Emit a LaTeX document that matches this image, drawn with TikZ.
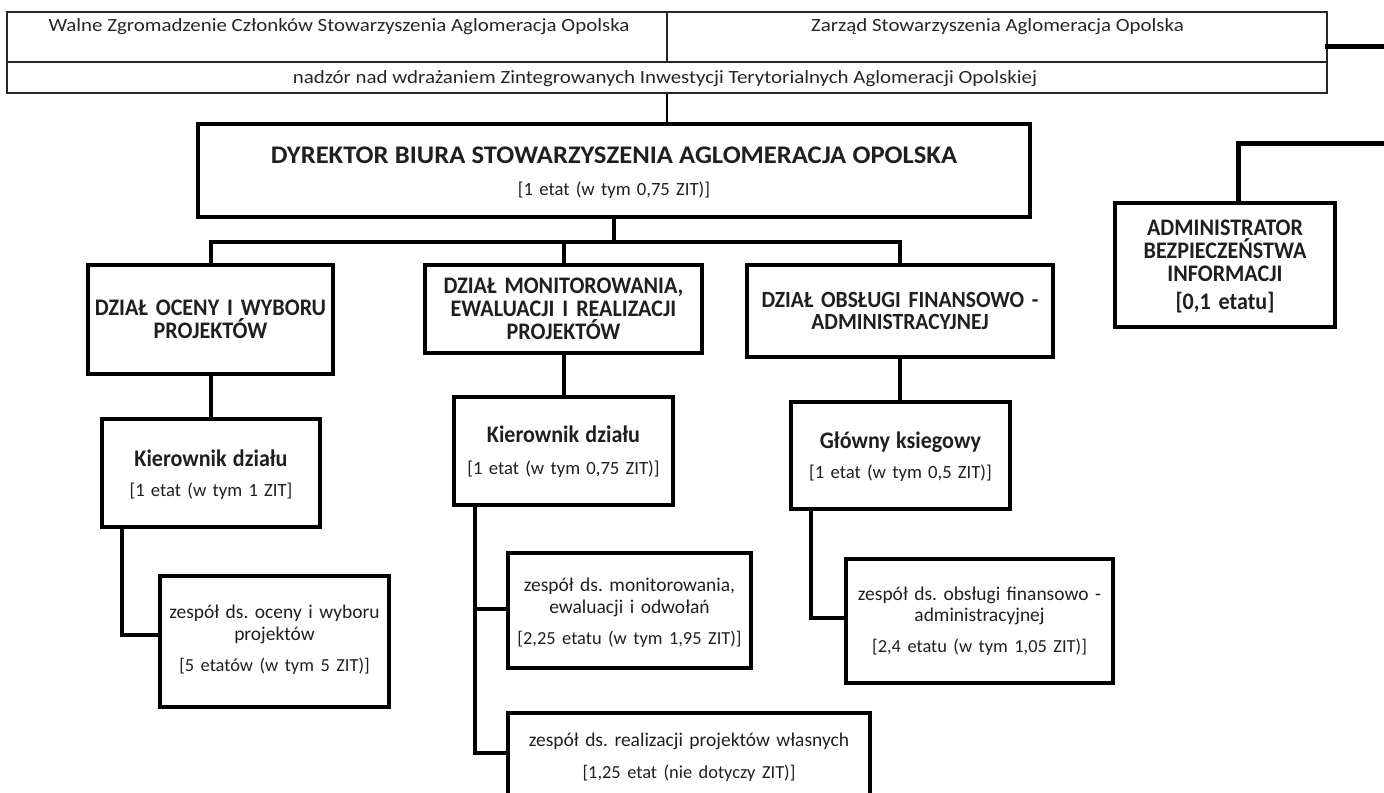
\documentclass[tikz,border=0pt]{standalone}
\usepackage{fontspec}
\setmainfont{Carlito}
\newfontfamily\fHead[FakeStretch=1.12]{Carlito}
\newfontfamily\fDir[FakeStretch=1.05]{Carlito}
\newfontfamily\fBold[FakeStretch=0.93]{Carlito}
\usetikzlibrary{fit,calc}
\frenchspacing
\begin{document}
\begin{tikzpicture}[x=0.75pt,y=-0.75pt,
  box/.style={draw=black, line width=3pt, inner sep=0pt},
  cell/.style={draw=black!85, line width=1pt, inner sep=0pt},
  celltext/.style={inner sep=0pt, anchor=base, font=\fHead\fontsize{14}{17}\selectfont, text=black!85},
  txt/.style={inner sep=0pt, anchor=base, align=center, text=black!88},
  hd/.style={txt, font=\fBold\bfseries\fontsize{17.8}{#1}\selectfont},
  team/.style={txt, font=\fontsize{14.6}{#1}\selectfont},
  conn/.style={line width=3pt},
  thinconn/.style={line width=1.1pt},
  heavy/.style={line width=3.75pt}
]
\useasboundingbox (0,0) rectangle (1384,792);
% header
\node[cell, fit={(7,12)(667,62)}] (walne) {};
\node[cell, fit={(667,12)(1327,62)}] (zarzad) {};
\node[cell, fit={(7,62)(1327,93)}] (nadzor) {};
\node[celltext] (walnet) at (339,31.7) {Walne Zgromadzenie Członków Stowarzyszenia Aglomeracja Opolska};
\node[celltext] (zarzadt) at (997.5,31.7) {Zarząd Stowarzyszenia Aglomeracja Opolska};
\node[celltext] (nadzort) at (665,83.3) {nadzór nad wdrażaniem Zintegrowanych Inwestycji Terytorialnych Aglomeracji Opolskiej};

% boxes
\node[box, fit={(198,124)(1030,217)}] (director) {};
\node[box, fit={(88,265)(333,374)}] (ocena) {};
\node[box, fit={(425,265)(702,353)}] (monit) {};
\node[box, fit={(747,265)(1053,357)}] (obsl) {};
\node[box, fit={(102,419)(320,527)}] (kier1) {};
\node[box, fit={(454,397)(673,505)}] (kier2) {};
\node[box, fit={(791,402)(1010,509)}] (glowny) {};
\node[box, fit={(160,576)(389,707)}] (zesp1) {};
\node[box, fit={(508,553)(751,668)}] (zesp2) {};
\node[box, fit={(508,713)(870,812)}] (zesp3) {};
\node[box, fit={(846,559)(1113,683)}] (zesp4) {};
\node[box, fit={(1115,203)(1335,327)}] (admin) {};

% texts
\node[txt, text width=600pt, font=\fontsize{14}{17}\selectfont] (directorT) at (614,163)
  {{\fDir\bfseries\fontsize{19}{21}\selectfont DYREKTOR BIURA STOWARZYSZENIA AGLOMERACJA OPOLSKA}\\[7pt]{[}1 etat (w tym 0,75 ZIT)]};
\node[hd=17.5pt, text width=178pt] (ocenaT) at (210.5,315)
  {DZIAŁ OCENY I WYBORU\\PROJEKTÓW};
\node[hd=17.1pt, text width=204pt] (monitT) at (563.5,293.5)
  {DZIAŁ MONITOROWANIA,\\EWALUACJI I REALIZACJI\\PROJEKTÓW};
\node[txt, text width=224pt, font=\fBold\bfseries\fontsize{17.4}{17}\selectfont] (obslT) at (900,307.3)
  {DZIAŁ OBSŁUGI FINANSOWO -\\ADMINISTRACYJNEJ};
\node[txt, text width=158pt, font=\fontsize{14}{17}\selectfont] (kier1T) at (211,466)
  {{\fBold\bfseries\fontsize{17.8}{19}\selectfont Kierownik działu}\\[6pt]{[}1 etat (w tym 1 ZIT]};
\node[txt, text width=158pt, font=\fontsize{14}{17}\selectfont] (kier2T) at (563.5,442.5)
  {{\fBold\bfseries\fontsize{17.8}{19}\selectfont Kierownik działu}\\[7pt]{[}1 etat (w tym 0,75 ZIT)]};
\node[txt, text width=158pt, font=\fontsize{14}{17}\selectfont] (glownyT) at (900.5,448.3)
  {{\fBold\bfseries\fontsize{17.8}{19}\selectfont Główny ksiegowy}\\[6pt]{[}1 etat (w tym 0,5 ZIT)]};
\node[team=16.8pt, text width=168pt] (zesp1T) at (274.5,618.3)
  {zespół ds. oceny i wyboru\\projektów\\[6.45pt]{\fontsize{13.8}{16}\selectfont{[}5 etatów (w tym 5 ZIT)]}};
\node[team=16.4pt, text width=178pt] (zesp2T) at (629.5,591.6)
  {zespół ds. monitorowania,\\ewaluacji i odwołań\\[7pt]{\fontsize{13.8}{16}\selectfont{[}2,25 etatu (w tym 1,95 ZIT)]}};
\node[team=16.5pt, text width=266pt] (zesp3T) at (689,746.7)
  {zespół ds. realizacji projektów własnych\\[7.2pt]{\fontsize{13.8}{16}\selectfont{[}1,25 etat (nie dotyczy ZIT)]}};
\node[team=16.3pt, text width=196pt] (zesp4T) at (979.5,600)
  {zespół ds. obsługi finansowo -\\administracyjnej\\[6.7pt]{\fontsize{13.8}{16}\selectfont{[}2,4 etatu (w tym 1,05 ZIT)]}};
\node[hd=17.25pt, text width=162pt] (adminT) at (1225,235.5)
  {ADMINISTRATOR\\BEZPIECZEŃSTWA\\INFORMACJI\\[3.75pt]{[}0,1 etatu]};

% connectors
\draw[thinconn] (nadzor.south) -- (nadzor.south |- director.north);
\coordinate (bus) at (614,242);
\draw[conn] (director.south) -- (bus);
\draw[conn, line join=miter] (ocena.north) -- (ocena.north |- bus) -- (obsl.north |- bus) -- (obsl.north);
\draw[conn] (monit.north |- bus) -- (monit.north);
\draw[conn] (ocena.south) -- (ocena.south |- kier1.north);
\draw[conn] (monit.south) -- (monit.south |- kier2.north);
\draw[conn] (obsl.south) -- (obsl.south |- glowny.north);
\coordinate (k1) at ($(kier1.south west)+(22,0)$);
\coordinate (z1) at ($(zesp1.north west)+(0,61)$);
\coordinate (k2) at ($(kier2.south west)+(23,0)$);
\coordinate (z2) at ($(zesp2.north west)+(0,58)$);
\coordinate (z3) at ($(zesp3.north west)+(0,42)$);
\coordinate (k3) at ($(glowny.south west)+(22,0)$);
\coordinate (z4) at ($(zesp4.north west)+(0,61)$);
\draw[conn, line join=miter] (k1) |- (z1);
\draw[conn, line join=miter] (k2) |- (z3);
\draw[conn] (k2 |- z2) -- (z2);
\draw[conn, line join=miter] (k3) |- (z4);
\coordinate (outA) at (1392,47);
\coordinate (outB) at (1392,143);
\draw[heavy] ($(zarzad.east |- outA)+(-3,0)$) -- (outA);
\draw[heavy, line join=miter] (outB) -| ($(admin.north)+(13,0)$);
\end{tikzpicture}
\end{document}
